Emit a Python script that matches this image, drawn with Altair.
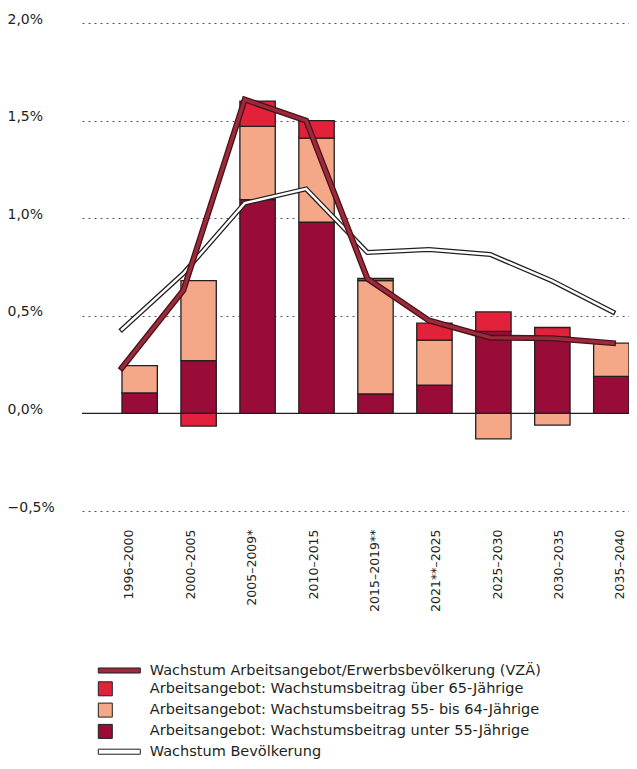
import altair as alt
import pandas as pd

periods = ["1996–2000", "2000–2005", "2005–2009*", "2010–2015", "2015–2019**",
           "2021**–2025", "2025–2030", "2030–2035", "2035–2040"]

# stacked contributions (percentage points)
under55 = [0.105, 0.27, 1.095, 0.98, 0.10, 0.145, 0.42, 0.39, 0.19]
age55_64 = [0.14, 0.41, 0.375, 0.43, 0.58, 0.23, -0.13, -0.06, 0.17]
over65 = [0.0, -0.065, 0.13, 0.09, 0.012, 0.087, 0.10, 0.05, 0.0]

# lines (%)
labour_growth = [0.234, 0.63, 1.608, 1.50, 0.69, 0.476, 0.388, 0.385, 0.36]
population_growth = [0.43, 0.717, 1.077, 1.15, 0.824, 0.84, 0.814, 0.68, 0.519]

S_LINE = "Wachstum Arbeitsangebot/Erwerbsbevölkerung (VZÄ)"
S_65 = "Arbeitsangebot: Wachstumsbeitrag über 65-Jährige"
S_55 = "Arbeitsangebot: Wachstumsbeitrag 55- bis 64-Jährige"
S_U55 = "Arbeitsangebot: Wachstumsbeitrag unter 55-Jährige"
S_POP = "Wachstum Bevölkerung"

legend_order = [S_LINE, S_65, S_55, S_U55, S_POP]
legend_colors = ["#9b2a3b", "#e2213a", "#f4a888", "#990c37", "#ffffff"]
LINE_SYM = "M0,-0.36H6V0.36H0Z"
BOX_SYM = "M0,-1H2V1H0Z"
legend_shapes = [LINE_SYM, BOX_SYM, BOX_SYM, BOX_SYM, LINE_SYM]

FONT = "DejaVu Sans"
TXT = "#231f20"

bar_rows = []
for i, p in enumerate(periods):
    bar_rows.append({"period": p, "series": S_U55, "value": under55[i], "order": 1})
    bar_rows.append({"period": p, "series": S_55, "value": age55_64[i], "order": 2})
    bar_rows.append({"period": p, "series": S_65, "value": over65[i], "order": 3})
bar_df = pd.DataFrame(bar_rows)

line_rows = []
for i, p in enumerate(periods):
    line_rows.append({"period": p, "series": S_LINE, "value": labour_growth[i]})
    line_rows.append({"period": p, "series": S_POP, "value": population_growth[i]})
line_df = pd.DataFrame(line_rows)

y_scale = alt.Scale(domain=[-0.5, 2.0], nice=False, zero=False)
color_scale = alt.Scale(domain=legend_order, range=legend_colors)
shape_scale = alt.Scale(domain=legend_order, range=legend_shapes)

y_axis = alt.Axis(
    values=[-0.5, 0, 0.5, 1.0, 1.5, 2.0],
    labelExpr="replace(format(datum.value, '.1f'), '.', ',') + '%'",
    grid=True, gridDash=[2, 4], gridColor="#555555", gridWidth=1,
    domain=False, ticks=False, tickSize=0,
    labelAlign="left", labelPadding=75, labelBaseline="alphabetic",
    labelFont=FONT, labelFontSize=14, labelColor=TXT, title=None,
)

legend_spec = alt.Legend(
    title=None, orient="none", legendX=8.8, legendY=640, direction="vertical",
    symbolSize=196, symbolStrokeWidth=1, symbolStrokeColor=TXT,
    labelFont=FONT, labelFontSize=14.5, labelColor=TXT, labelOffset=44,
    labelLimit=0, rowPadding=2.3,
)

zero_rule = alt.Chart(pd.DataFrame({"value": [0]})).mark_rule(
    color=TXT, strokeWidth=1.2
).encode(y=alt.Y("value:Q", scale=y_scale, axis=y_axis))

bars = alt.Chart(bar_df).transform_filter("datum.value != 0").mark_bar(
    stroke=TXT, strokeWidth=1.3
).encode(
    x=alt.X("period:N", sort=periods,
            scale=alt.Scale(type="band", paddingInner=0.40, paddingOuter=0.339, align=1),
            axis=None),
    y=alt.Y("value:Q", stack="zero", scale=y_scale, axis=y_axis),
    color=alt.Color("series:N", scale=color_scale, legend=legend_spec),
    order=alt.Order("order:Q"),
)

x_axis = alt.Axis(
    labelAngle=-90, labelPadding=18, labelOffset=7, domain=False, ticks=False, tickSize=0,
    grid=False, title=None, labelFont=FONT, labelFontSize=12.5, labelColor=TXT,
)

line_base = alt.Chart(line_df).encode(
    x=alt.X("period:N", sort=periods,
            scale=alt.Scale(type="point", padding=0.456, align=0.714), axis=x_axis),
    y=alt.Y("value:Q", scale=y_scale, axis=y_axis),
)

pop_outer = line_base.transform_filter(alt.datum.series == S_POP).mark_line(
    color=TXT, strokeWidth=5, strokeJoin="miter", strokeCap="square")
pop_inner = line_base.transform_filter(alt.datum.series == S_POP).mark_line(
    color="#ffffff", strokeWidth=2.4, strokeJoin="miter", strokeCap="square")
lab_outer = line_base.transform_filter(alt.datum.series == S_LINE).mark_line(
    color="#4a1119", strokeWidth=6, strokeJoin="miter", strokeCap="square")
lab_inner = line_base.transform_filter(alt.datum.series == S_LINE).mark_line(
    color="#9b2a3b", strokeWidth=3.4, strokeJoin="miter", strokeCap="square")

lines = alt.layer(pop_outer, pop_inner, lab_outer, lab_inner)

legend_df = pd.DataFrame({"series": legend_order})
legend_layer = alt.Chart(legend_df).transform_filter("false").mark_point(
    filled=True, stroke=TXT, strokeWidth=1, opacity=1
).encode(
    color=alt.Color("series:N", scale=color_scale, legend=legend_spec),
    shape=alt.Shape("series:N", scale=shape_scale, legend=legend_spec),
)

chart = alt.layer(zero_rule, bars, lines, legend_layer).resolve_scale(
    x="independent"
).properties(
    width=547, height=488, background="white",
    autosize=alt.AutoSizeParams(type="none"),
    padding={"left": 74, "right": 0, "top": 15, "bottom": 250},
).configure_view(stroke=None)

chart.save("out.html", embed_options={"renderer": "svg", "actions": False})
